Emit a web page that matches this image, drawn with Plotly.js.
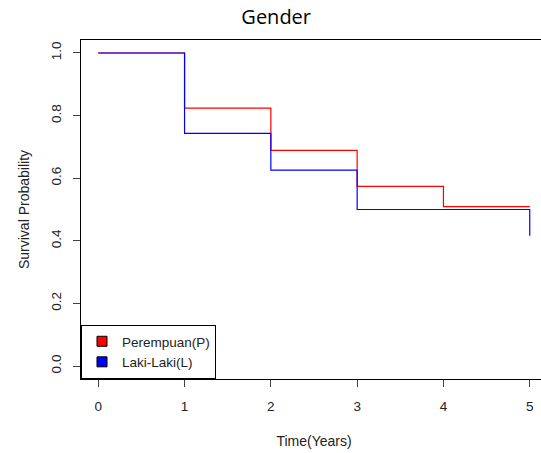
<!DOCTYPE html>
<html>
<head>
<meta charset="utf-8">
<script src="https://cdn.plot.ly/plotly-3.0.1.min.js"></script>
<style>
  html, body { margin: 0; padding: 0; background: #fff; overflow: hidden; }
  #wrap { position: relative; width: 541px; height: 453px; overflow: hidden; }
  #rule { position: absolute; left: 9px; top: 30px; width: 2px; height: 423px; background: #dde7f3; }
  #chart { position: absolute; left: 0; top: 0; }
</style>
</head>
<body>
<div id="wrap">
  <div id="rule"></div>
  <div id="chart"></div>
</div>
<script>
// Kaplan-Meier survival estimates by gender (step functions)
const groupNames = ["Perempuan(P)", "Laki-Laki(L)"];
const groupColors = ["#ff0000", "#0000ff"];

const timeP = [0, 1, 2, 3, 4, 5];
const survP = [1.0, 0.824, 0.689, 0.574, 0.509, 0.509];

const timeL = [0, 1, 2, 3, 5];
const survL = [1.0, 0.743, 0.626, 0.500, 0.416];

const xTicks = [0, 1, 2, 3, 4, 5];
const yTicks = [0.0, 0.2, 0.4, 0.6, 0.8, 1.0];
const yTickText = ["0.0", "0.2", "0.4", "0.6", "0.8", "1.0"];

const curves = [
  { x: timeP, y: survP, name: groupNames[0], color: groupColors[0] },
  { x: timeL, y: survL, name: groupNames[1], color: groupColors[1] }
];

const traces = [];
curves.forEach(c => {
  traces.push({
    type: "scatter", mode: "lines", x: c.x, y: c.y,
    line: { shape: "hv", color: c.color, width: 1.2 },
    showlegend: false, hoverinfo: "skip"
  });
});
// legend keys drawn as filled squares
curves.forEach(c => {
  traces.push({
    type: "scatter", mode: "markers", x: [null], y: [null], name: c.name,
    marker: { symbol: "square", size: 10, color: c.color, line: { color: "#000", width: 1 } },
    showlegend: true
  });
});

const axisFont = { family: "Liberation Sans, Arial, sans-serif", size: 13.5, color: "#222" };
const titleFont = { family: "Liberation Sans, Arial, sans-serif", size: 14, color: "#222" };

const layout = {
  width: 548, height: 453,
  margin: { l: 81, r: 1, t: 40, b: 74 },
  paper_bgcolor: "#fff", plot_bgcolor: "#fff",
  title: {
    text: "Gender", x: 0.504, xref: "container", xanchor: "center",
    y: 0.962, yref: "container", yanchor: "middle",
    font: { family: "Open Sans, sans-serif", size: 20, color: "#000" }
  },
  xaxis: {
    range: [-0.2, 5.2], tickvals: xTicks, ticktext: xTicks.map(String),
    showgrid: false, zeroline: false, showline: true, mirror: true,
    linecolor: "#000", linewidth: 1,
    ticks: "outside", ticklen: 7, tickcolor: "#444", tickwidth: 1,
    ticklabelstandoff: 8,
    tickfont: axisFont,
    title: { text: "Time(Years)", standoff: 22, font: titleFont }
  },
  yaxis: {
    range: [-0.0415, 1.0415], tickvals: yTicks, ticktext: yTickText,
    tickangle: -90,
    showgrid: false, zeroline: false, showline: true, mirror: true,
    linecolor: "#000", linewidth: 1,
    ticks: "outside", ticklen: 7, tickcolor: "#444", tickwidth: 1,
    ticklabelstandoff: 7,
    tickfont: axisFont,
    title: { text: "Survival Probability", standoff: 15, font: titleFont }
  },
  legend: {
    x: 0, y: 0, xanchor: "left", yanchor: "bottom",
    bgcolor: "#fff", bordercolor: "#000", borderwidth: 1,
    font: { family: "Liberation Sans, Arial, sans-serif", size: 13.5, color: "#222" },
    tracegroupgap: 0
  },
  showlegend: true
};

Plotly.newPlot("chart", traces, layout, { staticPlot: true, displayModeBar: false });
</script>
</body>
</html>
